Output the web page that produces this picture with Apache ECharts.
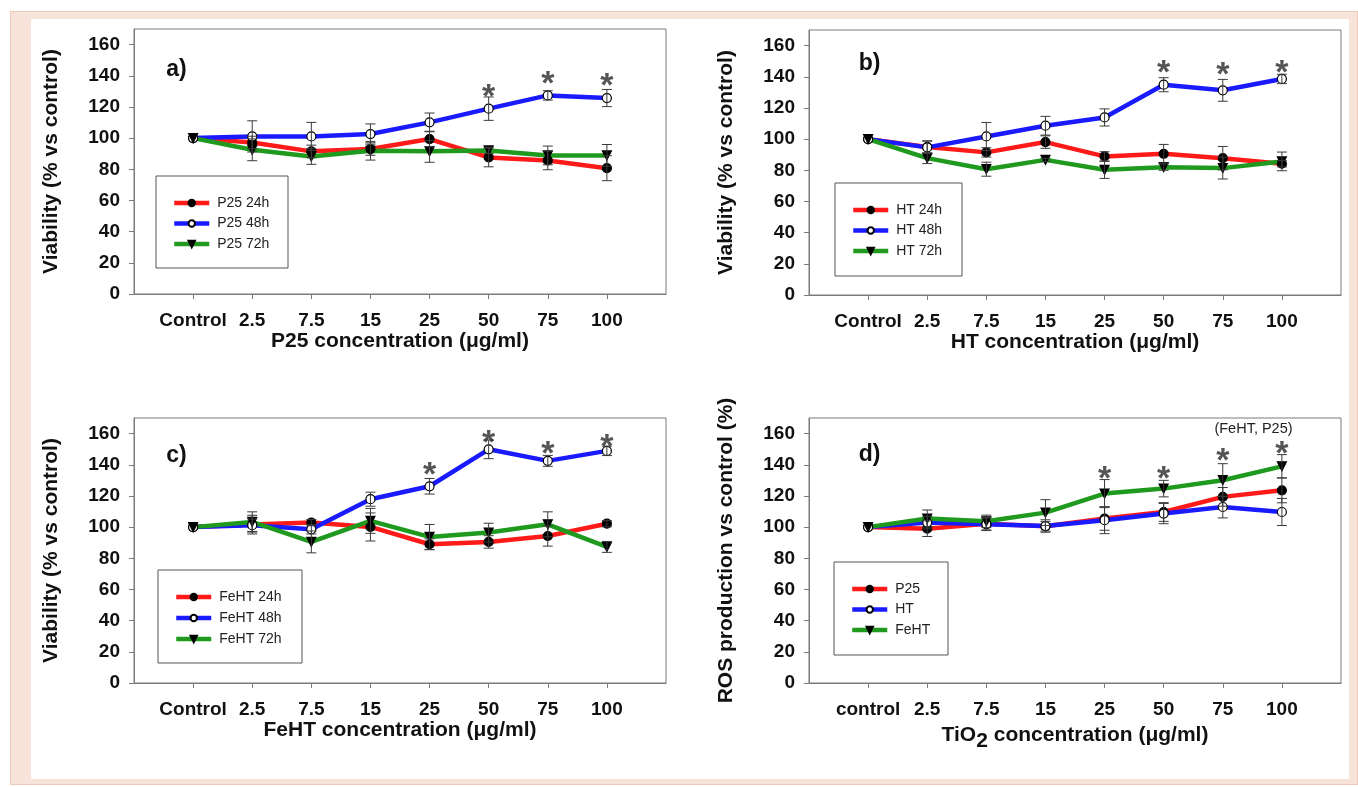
<!DOCTYPE html>
<html>
<head>
<meta charset="utf-8">
<script src="https://cdn.jsdelivr.net/npm/echarts@6.0.0/dist/echarts.min.js"></script>
<style>
html,body{margin:0;padding:0;background:#fff;}
#frame{position:absolute;left:10px;top:11px;width:1346px;height:772px;background:#f7e3da;border:1px solid #eccabb;}
#inner{position:absolute;left:31px;top:19px;width:1318px;height:760px;background:#fff;}
#chart{position:absolute;left:0;top:0;width:1358px;height:787px;}
</style>
</head>
<body>
<div id="frame"></div>
<div id="inner"></div>
<div id="chart"></div>
<script>
// ---------- data ----------
const categoriesABC = ['Control', '2.5', '7.5', '15', '25', '50', '75', '100'];
const categoriesD = ['control', '2.5', '7.5', '15', '25', '50', '75', '100'];
const yTicks = [0, 20, 40, 60, 80, 100, 120, 140, 160];

// panel a) P25
const a24 = [100, 97.2, 91.5, 93.0, 99.4, 87.6, 85.7, 80.7];
const a24Err = [0, 4, 4, 4, 5, 6, 6, 8];
const a48 = [100, 101.1, 101.1, 102.6, 110.1, 118.9, 127.4, 125.7];
const a48Err = [0, 10, 9, 6.5, 6, 7.5, 3, 5.5];
const a72 = [100, 92.5, 88.2, 91.9, 91.5, 92.1, 88.9, 88.9];
const a72Err = [0, 7, 5, 6, 7, 2, 6, 7];
const aStarX = [5, 6, 7];
const aStarY = [132, 140, 139];

// panel b) HT
const b24 = [100, 94.9, 91.5, 98.1, 88.9, 90.6, 87.8, 84.2];
const b24Err = [0, 4, 3, 4, 3, 6, 7.5, 2];
const b48 = [100, 94.7, 101.7, 108.6, 113.9, 134.9, 131.3, 138.6];
const b48Err = [0, 4, 9, 6, 5.5, 4.5, 7, 3];
const b72 = [100, 87.8, 80.7, 86.7, 80.3, 82.0, 81.4, 85.7];
const b72Err = [0, 3.5, 4.5, 1, 5.5, 2, 7, 6];
const bStarX = [5, 6, 7];
const bStarY = [147.5, 146.5, 148];

// panel c) FeHT
const c24 = [100, 101.6, 102.9, 100.1, 89.0, 90.5, 94.3, 102.2];
const c24Err = [0, 6, 2, 9, 3.5, 4, 6.5, 2];
const c48 = [100, 101.2, 98.6, 117.9, 126.2, 149.9, 142.5, 148.9];
const c48Err = [0, 4, 3, 4.5, 5, 6, 3.5, 3];
const c72 = [100, 103.3, 90.5, 104.0, 93.7, 96.5, 101.8, 87.3];
const c72Err = [0, 6.5, 7, 8, 8, 6, 8, 3.5];
const cStarX = [4, 5, 6, 7];
const cStarY = [139, 159.5, 152.5, 157];

// panel d) ROS
const dP25 = [100, 99.0, 102.2, 100.5, 105.5, 109.7, 119.4, 123.6];
const dP25Err = [0, 5, 4, 3, 7.5, 6, 6, 8];
const dHT = [100, 102.9, 101.8, 100.7, 104.4, 108.7, 112.9, 109.7];
const dHTErr = [0, 4, 4, 4, 8.6, 6.5, 7, 8.7];
const dFeHT = [100, 105.5, 103.7, 109.3, 121.5, 124.7, 130.1, 139.0];
const dFeHTErr = [0, 5.5, 4, 8.3, 9, 5.3, 10.6, 7.5];
const dStarX = [4, 5, 6, 7];
const dStarY = [136.5, 136, 147.5, 152.5];

// ---------- styles ----------
const FONT = '"Liberation Sans", Arial, Helvetica, sans-serif';
const RED = '#ff1a1a', BLUE = '#1a1aff', GREEN = '#1f9a1f';
const AXIS_COLOR = '#7a7a7a';
const xIdx = categoriesABC.map((c, i) => i);

const panels = [
  { grid: [134, 29, 532, 265], cats: categoriesABC, xName: 'P25 concentration (μg/ml)', yName: 'Viability (% vs control)',
    series: [['P25 24h', a24, a24Err, 0], ['P25 48h', a48, a48Err, 1], ['P25 72h', a72, a72Err, 2]],
    starX: aStarX, starY: aStarY, legend: [172, 195, 20.5], box: [156, 176, 132, 92], label: ['a)', 176.5, 70] },
  { grid: [809, 30, 532, 265], cats: categoriesABC, xName: 'HT concentration (μg/ml)', yName: 'Viability (% vs control)',
    series: [['HT 24h', b24, b24Err, 0], ['HT 48h', b48, b48Err, 1], ['HT 72h', b72, b72Err, 2]],
    starX: bStarX, starY: bStarY, legend: [851, 202, 20.5], box: [835, 183, 127, 93], label: ['b)', 869.5, 64] },
  { grid: [134, 418, 532, 265], cats: categoriesABC, xName: 'FeHT concentration (μg/ml)', yName: 'Viability (% vs control)',
    series: [['FeHT 24h', c24, c24Err, 0], ['FeHT 48h', c48, c48Err, 1], ['FeHT 72h', c72, c72Err, 2]],
    starX: cStarX, starY: cStarY, legend: [174, 589, 21], box: [158, 570, 144, 93], label: ['c)', 176.5, 456] },
  { grid: [809, 418, 532, 265], cats: categoriesD, xName: '{t|TiO}{s|2}{t| concentration (μg/ml)}', yName: 'ROS production vs control (%)',
    series: [['P25', dP25, dP25Err, 0], ['HT', dHT, dHTErr, 1], ['FeHT', dFeHT, dFeHTErr, 2]],
    starX: dStarX, starY: dStarY, legend: [850, 581, 20.5], box: [834, 562, 114, 93], label: ['d)', 869.5, 455] }
];

const styleByKind = [
  { color: RED, symbol: 'circle', rotate: 0, fill: '#000', border: '#000' },
  { color: BLUE, symbol: 'circle', rotate: 0, fill: '#fff', border: '#000' },
  { color: GREEN, symbol: 'triangle', rotate: 180, fill: '#000', border: '#000' }
];

const grids = [], xAxes = [], yAxes = [], series = [], legends = [], graphics = [];
const titleStyle = { fontSize: 21, fontWeight: 'bold', color: '#111', fontFamily: FONT };

panels.forEach((p, gi) => {
  grids.push({ left: p.grid[0], top: p.grid[1], width: p.grid[2], height: p.grid[3],
    show: true, borderColor: AXIS_COLOR, borderWidth: 1, backgroundColor: 'transparent' });
  xAxes.push({
    gridIndex: gi, type: 'value', min: -1, max: 8,
    axisLine: { show: true, onZero: false, lineStyle: { color: AXIS_COLOR, width: 1 } },
    axisTick: { show: true, customValues: xIdx, length: 5, lineStyle: { color: AXIS_COLOR } },
    axisLabel: { customValues: xIdx, formatter: v => p.cats[Math.round(v)], margin: 17,
      fontSize: 19, fontWeight: 'bold', color: '#111', fontFamily: FONT },
    splitLine: { show: false },
    name: p.xName, nameLocation: 'middle', nameGap: 36,
    nameTextStyle: Object.assign({}, titleStyle, { rich: {
      t: Object.assign({}, titleStyle),
      s: Object.assign({}, titleStyle, { padding: [12, 0, 0, 0] })
    } })
  });
  yAxes.push({
    gridIndex: gi, type: 'value', min: 0, max: 170,
    axisLine: { show: true, onZero: false, lineStyle: { color: AXIS_COLOR, width: 1 } },
    axisTick: { show: true, customValues: yTicks, length: 5, lineStyle: { color: AXIS_COLOR } },
    axisLabel: { customValues: yTicks, margin: 14, fontSize: 19, fontWeight: 'bold', color: '#111', fontFamily: FONT },
    splitLine: { show: false },
    name: p.yName, nameLocation: 'middle', nameRotate: 90, nameGap: 72, nameTextStyle: titleStyle
  });

  p.series.forEach(([name, vals, errs, kind]) => {
    const st = styleByKind[kind];
    series.push({
      name, type: 'line', xAxisIndex: gi, yAxisIndex: gi, z: 2,
      data: vals.map((v, i) => [i, v]),
      symbol: st.symbol, symbolRotate: st.rotate, symbolSize: 9,
      showAllSymbol: true,
      lineStyle: { color: st.color, width: 4.5 },
      itemStyle: { color: st.fill, borderColor: st.border, borderWidth: 1.2 },
      emphasis: { disabled: true }, animation: false
    });
    series.push({
      name: name + ' err', type: 'custom', xAxisIndex: gi, yAxisIndex: gi, z: 3, silent: true,
      data: vals.map((v, i) => [i, v - errs[i], v + errs[i]]).filter((d, i) => errs[i] > 0),
      renderItem: (params, api) => {
        const lo = api.coord([api.value(0), api.value(1)]);
        const hi = api.coord([api.value(0), api.value(2)]);
        const w = 5;
        const ls = { stroke: '#3a3a3a', lineWidth: 1 };
        return { type: 'group', children: [
          { type: 'line', shape: { x1: lo[0], y1: lo[1], x2: hi[0], y2: hi[1] }, style: ls },
          { type: 'line', shape: { x1: lo[0] - w, y1: lo[1], x2: lo[0] + w, y2: lo[1] }, style: ls },
          { type: 'line', shape: { x1: hi[0] - w, y1: hi[1], x2: hi[0] + w, y2: hi[1] }, style: ls }
        ] };
      },
      animation: false
    });
  });

  series.push({
    name: 'stars' + gi, type: 'scatter', xAxisIndex: gi, yAxisIndex: gi, z: 4, silent: true,
    data: p.starX.map((x, i) => [x, p.starY[i]]),
    symbolSize: 1, itemStyle: { color: 'rgba(0,0,0,0)' },
    label: { show: true, position: 'inside', formatter: '*', fontSize: 34, fontWeight: 'bold', color: '#2a2a2a',
      fontFamily: FONT, offset: [0, 9] },
    animation: false
  });

  legends.push({
    data: p.series.map(s => s[0]), orient: 'vertical', left: p.legend[0], top: p.legend[1] + 1,
    itemWidth: 35, itemHeight: 8, itemGap: p.legend[2] - 14, padding: 0, selectedMode: false,
    lineStyle: { width: 4.5 },
    textStyle: { fontSize: 14, color: '#222', fontFamily: FONT, padding: [0, 0, 0, 3] }
  });

  graphics.push({ type: 'rect', shape: { x: p.box[0], y: p.box[1], width: p.box[2], height: p.box[3] },
    style: { fill: 'none', stroke: '#555', lineWidth: 1 }, silent: true });
  graphics.push({ type: 'text', x: p.label[1], y: p.label[2],
    style: { text: p.label[0], fontSize: 23, fontWeight: 'bold', fill: '#111', fontFamily: FONT,
      align: 'center', verticalAlign: 'middle' } });
});

graphics.push({ type: 'text', x: 1253.5, y: 429,
  style: { text: '(FeHT, P25)', fontSize: 14.5, fill: '#222', fontFamily: FONT, align: 'center', verticalAlign: 'middle' } });

const chart = echarts.init(document.getElementById('chart'), null, { renderer: 'canvas' });
chart.setOption({
  backgroundColor: 'transparent',
  animation: false,
  grid: grids, xAxis: xAxes, yAxis: yAxes, series, legend: legends, graphic: graphics
});
</script>
</body>
</html>
